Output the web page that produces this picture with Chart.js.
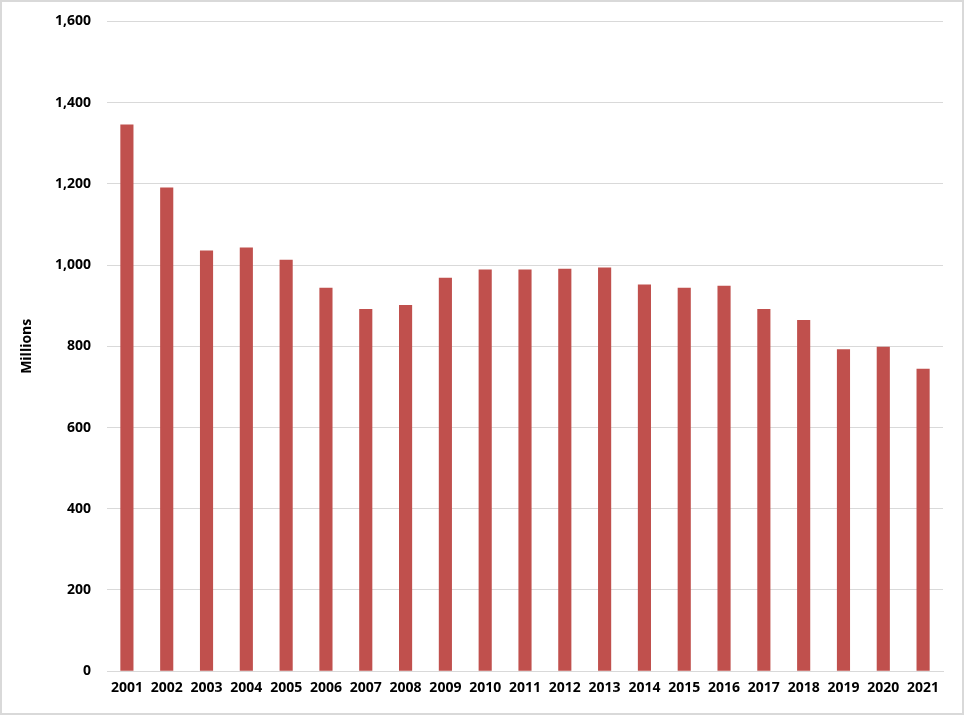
<!DOCTYPE html>
<html>
<head>
<meta charset="utf-8">
<script src="https://cdn.jsdelivr.net/npm/chart.js@4"></script>
<style>
  html, body { margin: 0; padding: 0; background: #fff; }
  #wrap { position: relative; width: 960px; height: 711px; border: 2px solid #d9d9d9; overflow: hidden; }
  #barChart { position: absolute; left: 0; top: -5px; }
</style>
</head>
<body>
<div id="wrap"><canvas id="barChart" width="960" height="716"></canvas></div>
<script>
// ====================== Data ======================
const years = ["2001", "2002", "2003", "2004", "2005", "2006", "2007", "2008", "2009", "2010", "2011",
  "2012", "2013", "2014", "2015", "2016", "2017", "2018", "2019", "2020", "2021"];
const millions = [1346, 1191, 1036, 1043, 1013, 944, 892, 902, 969, 989, 989,
  991, 994, 952, 944, 949, 892, 865, 793, 799, 745];

const tickFont = { family: "'Open Sans', sans-serif", size: 14, weight: "bold" };

// ====================== Bar Chart ======================
const ctx = document.getElementById("barChart").getContext("2d");
new Chart(ctx, {
  type: "bar",
  data: {
    labels: years,
    datasets: [{
      label: "Millions",
      data: millions,
      backgroundColor: "#c0504d",
      barPercentage: 0.33,
      categoryPercentage: 1.0
    }]
  },
  options: {
    responsive: false,
    animation: false,
    layout: { padding: { top: 2, right: 19, left: 13, bottom: 9 } },
    plugins: {
      legend: { display: false },
      tooltip: { enabled: false }
    },
    scales: {
      y: {
        min: 0,
        max: 1600,
        ticks: { stepSize: 200, color: "#000", font: tickFont, padding: 16 },
        grid: { color: "#d9d9d9", lineWidth: 1, drawTicks: false },
        border: { display: false },
        title: { display: true, text: "Millions", color: "#000", font: tickFont, padding: { bottom: 8 } },
        afterFit: scale => { scale.width = 92; }
      },
      x: {
        ticks: { color: "#000", font: tickFont, padding: 8, maxRotation: 0 },
        grid: { display: false, drawTicks: false },
        border: { color: "#d9d9d9", width: 1 }
      }
    }
  }
});
</script>
</body>
</html>
